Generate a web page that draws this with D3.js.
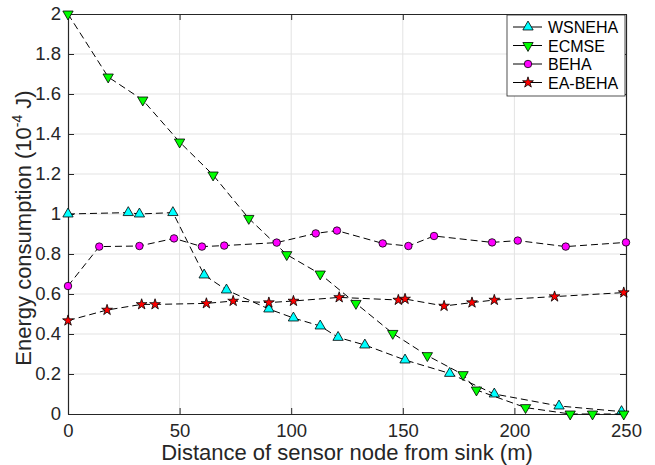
<!DOCTYPE html>
<html>
<head>
<meta charset="utf-8">
<script src="https://cdn.jsdelivr.net/npm/d3@7"></script>
<style>
  body { margin: 0; background: #fff; }
  text { font-family: 'Liberation Sans', Arial, sans-serif; }
</style>
</head>
<body>
<script>
var width = 655,
  height = 465

var margin = {top: 14, right: 29, bottom: 51, left: 68}

var seriesNames = ['WSNEHA', 'ECMSE', 'BEHA', 'EA-BEHA']

var xWsneha = [0, 27, 32, 47, 61, 71, 90, 101, 113, 121, 133, 151, 171, 191, 220, 248]
var yWsneha = [1.0, 1.007, 1.0, 1.007, 0.695, 0.62, 0.525, 0.48, 0.44, 0.383, 0.345, 0.27, 0.203, 0.1, 0.04, 0.012]

var xEcmse = [0, 18, 33.5, 50, 65, 81, 98, 113, 129, 145.5, 161, 177, 183, 205, 225, 235, 249]
var yEcmse = [2.0, 1.685, 1.57, 1.36, 1.195, 0.978, 0.797, 0.7, 0.553, 0.403, 0.292, 0.197, 0.12, 0.032, 0.0, 0.0, 0.0]

var xBeha = [0, 14, 32, 47.5, 60, 70, 93.5, 111, 120.5, 141, 152.5, 164, 190, 201.5, 223, 250]
var yBeha = [0.64, 0.837, 0.84, 0.878, 0.837, 0.842, 0.857, 0.903, 0.917, 0.853, 0.84, 0.89, 0.858, 0.867, 0.837, 0.858]

var xEaBeha = [0, 17.5, 33, 39, 62, 74, 90, 101, 121.5, 148, 151, 168.5, 181, 191, 218, 249]
var yEaBeha = [0.467, 0.52, 0.548, 0.548, 0.553, 0.565, 0.557, 0.565, 0.583, 0.57, 0.575, 0.54, 0.557, 0.57, 0.587, 0.607]

var xTicks = [0, 50, 100, 150, 200, 250]
var yTicks = [0, 0.2, 0.4, 0.6, 0.8, 1, 1.2, 1.4, 1.6, 1.8, 2]

var series = [
  {name: seriesNames[0], xs: xWsneha, ys: yWsneha, fill: '#00ffff', shape: 'up'},
  {name: seriesNames[1], xs: xEcmse, ys: yEcmse, fill: '#00ff00', shape: 'down'},
  {name: seriesNames[2], xs: xBeha, ys: yBeha, fill: '#ff00ff', shape: 'circle'},
  {name: seriesNames[3], xs: xEaBeha, ys: yEaBeha, fill: '#ff0000', shape: 'star'}
]

var plotW = width - margin.left - margin.right,
  plotH = height - margin.top - margin.bottom

var x = d3.scaleLinear().domain([0, 250]).range([0, plotW])
var y = d3.scaleLinear().domain([0, 2]).range([plotH, 0])

var svg = d3.select('body').append('svg')
  .attr('width', width)
  .attr('height', height)

var g = svg.append('g')
  .attr('transform', 'translate(' + margin.left + ',' + margin.top + ')')

// grid
g.append('g').selectAll('line').data(xTicks.slice(1, -1))
  .enter().append('line')
  .attr('x1', function (d) { return x(d) }).attr('x2', function (d) { return x(d) })
  .attr('y1', 0).attr('y2', plotH)
  .attr('stroke', '#e3e3e3').attr('stroke-width', 1)
g.append('g').selectAll('line').data(yTicks.slice(1, -1))
  .enter().append('line')
  .attr('y1', function (d) { return y(d) }).attr('y2', function (d) { return y(d) })
  .attr('x1', 0).attr('x2', plotW)
  .attr('stroke', '#e3e3e3').attr('stroke-width', 1)

// axes (ticks inward on all four sides)
var tickLen = 6
var xAxis = d3.axisBottom(x).tickValues(xTicks).tickSizeInner(-tickLen).tickSizeOuter(0).tickPadding(10)
var yAxis = d3.axisLeft(y).tickValues(yTicks).tickSizeInner(-tickLen).tickSizeOuter(0).tickPadding(7)
  .tickFormat(function (d) { return d3.format('~g')(d) })

var gx = g.append('g').attr('transform', 'translate(0,' + plotH + ')').call(xAxis)
var gy = g.append('g').call(yAxis)
var gxTop = g.append('g').call(d3.axisTop(x).tickValues(xTicks).tickSizeInner(-tickLen).tickSizeOuter(0).tickFormat(''))
var gyRight = g.append('g').attr('transform', 'translate(' + plotW + ',0)')
  .call(d3.axisRight(y).tickValues(yTicks).tickSizeInner(-tickLen).tickSizeOuter(0).tickFormat(''))

;[gx, gy, gxTop, gyRight].forEach(function (a) {
  a.select('.domain').attr('stroke', '#262626').attr('stroke-width', 1.2)
  a.selectAll('.tick line').attr('stroke', '#262626')
  a.selectAll('.tick text').attr('font-size', 18.5).attr('fill', '#262626')
    .style('font-family', "'Liberation Sans', Arial, sans-serif")
})

// axis labels
svg.append('text')
  .attr('x', margin.left + plotW / 2)
  .attr('y', 460)
  .attr('text-anchor', 'middle')
  .attr('font-size', 22)
  .attr('fill', '#262626')
  .text('Distance of sensor node from sink (m)')

var yl = svg.append('text')
  .attr('transform', 'translate(31,228) rotate(-90)')
  .attr('text-anchor', 'middle')
  .attr('font-size', 22)
  .attr('fill', '#262626')
yl.append('tspan').text('Energy consumption (10')
yl.append('tspan').attr('font-size', 14).attr('dy', -9).text('-4')
yl.append('tspan').attr('dy', 9).text('  J)')

// markers
function symbolPath (shape) {
  if (shape === 'circle') return d3.symbol().type(d3.symbolCircle).size(44)()
  if (shape === 'star') return d3.symbol().type(d3.symbolStar).size(36)()
  return d3.symbol().type(d3.symbolTriangle).size(46)()
}

function markerTransform (shape, px, py) {
  var t = 'translate(' + px + ',' + py + ')'
  if (shape === 'down') t += ' rotate(180)'
  return t
}

var line = d3.line()
  .x(function (d) { return x(d[0]) })
  .y(function (d) { return y(d[1]) })

series.forEach(function (s) {
  var pts = s.xs.map(function (v, i) { return [v, s.ys[i]] })
  var sg = g.append('g')
  sg.append('path')
    .datum(pts)
    .attr('d', line)
    .attr('fill', 'none')
    .attr('stroke', '#000')
    .attr('stroke-width', 1)
    .attr('stroke-dasharray', '7,4')
  sg.selectAll('.mk').data(pts)
    .enter().append('path')
    .attr('class', 'mk')
    .attr('d', symbolPath(s.shape))
    .attr('transform', function (d) { return markerTransform(s.shape, x(d[0]), y(d[1])) })
    .attr('fill', s.fill)
    .attr('stroke', '#000')
    .attr('stroke-width', 0.8)
})

// legend
var lg = svg.append('g').attr('transform', 'translate(507,15)')
lg.append('rect')
  .attr('x', 0).attr('y', 0)
  .attr('width', 118).attr('height', 81)
  .attr('fill', '#fff')
  .attr('stroke', '#262626')
  .attr('stroke-width', 0.8)

var items = lg.selectAll('.item').data(series)
  .enter().append('g')
  .attr('class', 'item')
  .attr('transform', function (d, i) { return 'translate(0,' + (12 + i * 18.5) + ')' })

items.append('line')
  .attr('x1', 6).attr('x2', 35)
  .attr('stroke', '#000').attr('stroke-width', 1)
items.append('path')
  .attr('d', function (d) { return symbolPath(d.shape) })
  .attr('transform', function (d) { return markerTransform(d.shape, 21, 0) })
  .attr('fill', function (d) { return d.fill })
  .attr('stroke', '#000')
  .attr('stroke-width', 0.8)
items.append('text')
  .attr('x', 41)
  .attr('y', 6)
  .attr('font-size', 16)
  .attr('fill', '#000')
  .text(function (d) { return d.name })
</script>
</body>
</html>
